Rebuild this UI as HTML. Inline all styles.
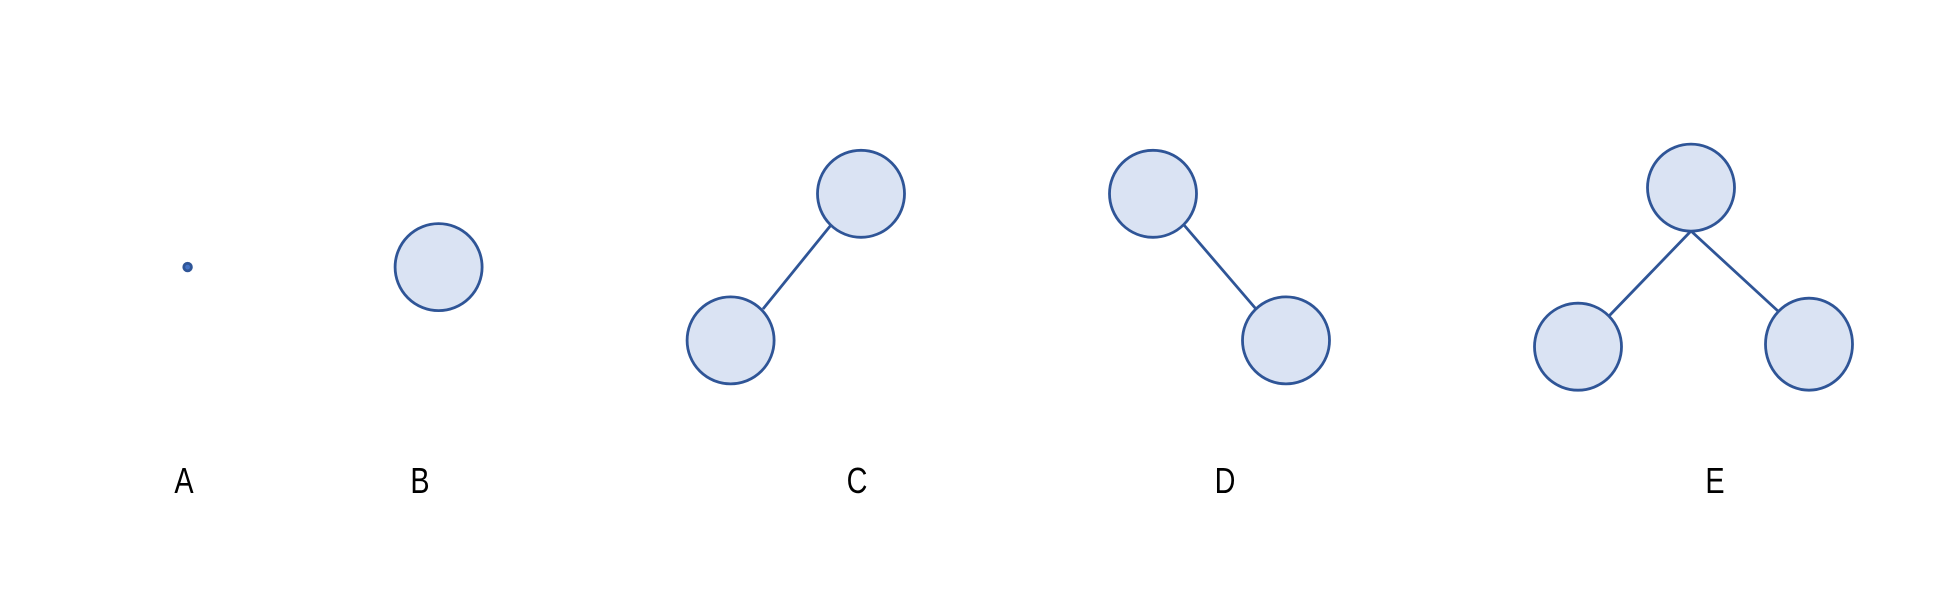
<!DOCTYPE html>
<html><head><meta charset="utf-8"><style>
html,body{margin:0;padding:0;background:#fff;}
svg{display:block;}
text{font-family:"Liberation Sans",sans-serif;font-size:36px;fill:#000;}
</style></head><body>
<svg width="1948" height="599" viewBox="0 0 1948 599" xmlns="http://www.w3.org/2000/svg">
<g stroke="#2f5597" stroke-width="2.8" fill="#dae3f3">
<circle cx="187.6" cy="267.1" r="3.8" fill="#4472c4"/>
<circle cx="438.6" cy="267.1" r="43.5"/>
<line x1="831" y1="225" x2="763" y2="309"/>
<circle cx="861" cy="193.8" r="43.5"/>
<circle cx="730.6" cy="340.4" r="43.5"/>
<line x1="1184" y1="225" x2="1256" y2="309"/>
<circle cx="1153" cy="193.8" r="43.5"/>
<circle cx="1286" cy="340.4" r="43.5"/>
<line x1="1691" y1="231" x2="1609" y2="316"/>
<line x1="1691" y1="231" x2="1779" y2="312"/>
<circle cx="1691" cy="187.6" r="43.5"/>
<circle cx="1578" cy="346.7" r="43.5"/>
<ellipse cx="1809" cy="344.2" rx="43.5" ry="46"/>
</g>
<g text-anchor="middle">
<text x="184" y="493" transform="translate(184 0) scale(0.8 1) translate(-184 0)">A</text>
<text x="420" y="493" transform="translate(420 0) scale(0.8 1) translate(-420 0)">B</text>
<text x="857" y="493" transform="translate(857 0) scale(0.8 1) translate(-857 0)">C</text>
<text x="1225" y="493" transform="translate(1225 0) scale(0.8 1) translate(-1225 0)">D</text>
<text x="1715" y="493" transform="translate(1715 0) scale(0.8 1) translate(-1715 0)">E</text>
</g>
</svg>
</body></html>
